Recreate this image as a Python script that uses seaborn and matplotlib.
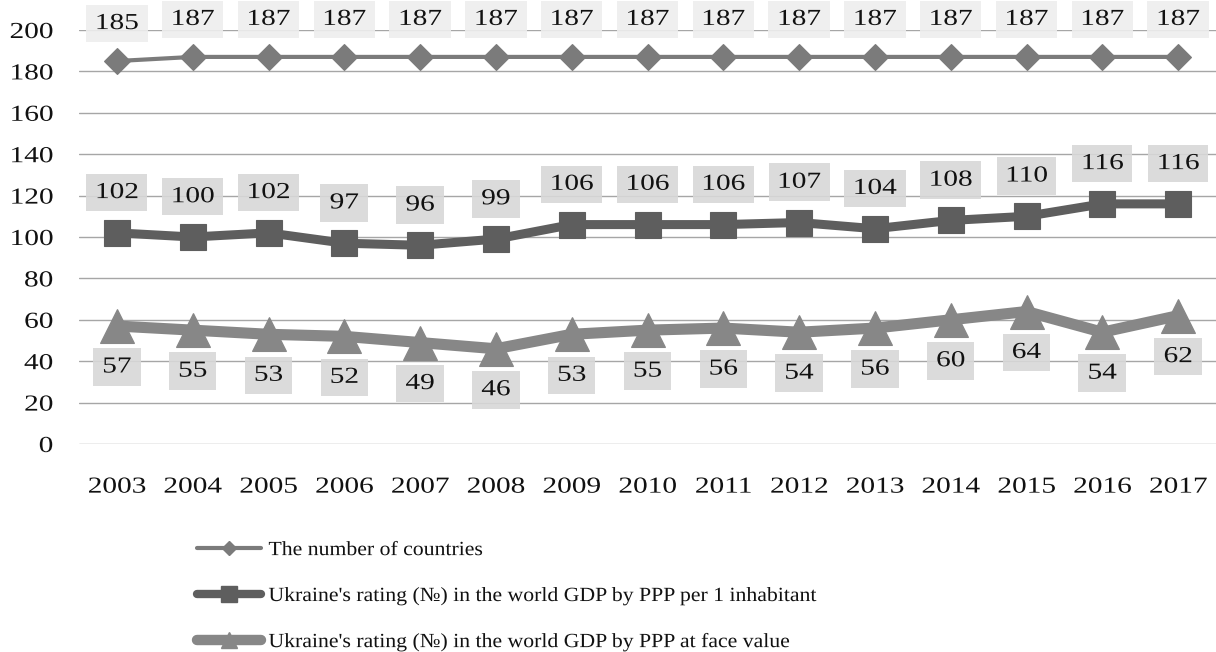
import matplotlib
matplotlib.use("Agg")
import matplotlib.pyplot as plt
from matplotlib.patheffects import AbstractPathEffect
from matplotlib.transforms import Affine2D
from matplotlib.lines import Line2D
import seaborn as sns
import pandas as pd

# ---- data ----
years = [2003, 2004, 2005, 2006, 2007, 2008, 2009, 2010, 2011, 2012, 2013, 2014, 2015, 2016, 2017]
countries = [185, 187, 187, 187, 187, 187, 187, 187, 187, 187, 187, 187, 187, 187, 187]
rating_per_capita = [102, 100, 102, 97, 96, 99, 106, 106, 106, 107, 104, 108, 110, 116, 116]
rating_face_value = [57, 55, 53, 52, 49, 46, 53, 55, 56, 54, 56, 60, 64, 54, 62]
series_names = [
    "The number of countries",
    "Ukraine's rating (№) in the world GDP by PPP per 1 inhabitant",
    "Ukraine's rating (№) in the world GDP by PPP at face value",
]
y_ticks = [0, 20, 40, 60, 80, 100, 120, 140, 160, 180, 200]


class Stretch(AbstractPathEffect):
    """Widen a drawn path horizontally about an anchor (left/center/right)."""

    def __init__(self, sx=1.25, anchor="center"):
        super().__init__()
        self.sx = sx
        self.anchor = anchor

    def draw_path(self, renderer, gc, tpath, affine, rgbFace=None):
        ext = tpath.get_extents(affine)
        if self.anchor == "left":
            cx = ext.x0
        elif self.anchor == "right":
            cx = ext.x1
        else:
            cx = 0.5 * (ext.x0 + ext.x1)
        extra = Affine2D().translate(-cx, 0).scale(self.sx, 1).translate(cx, 0)
        renderer.draw_path(gc, tpath, affine + extra, rgbFace)


sns.set_theme(style="white")
plt.rcParams["font.family"] = ["Liberation Serif", "DejaVu Serif"]

fig = plt.figure(figsize=(12.16, 6.52), dpi=100)
ax = fig.add_axes([79 / 1216, 1 - 444 / 652, 1 - 79 / 1216, 414 / 652])

styles = [
    dict(color="#7b7b7b", marker="D", lw=3.0, ms=13, label_above=True, off=27.0, box="#eeeeee"),
    dict(color="#5e5e5e", marker="s", lw=6.5, ms=19, label_above=True, off=29.0, box="#d8d8d8"),
    dict(color="#878787", marker="^", lw=8.0, ms=24, label_above=False, off=29.5, box="#d8d8d8"),
]
values = [countries, rating_per_capita, rating_face_value]

for name, vals, st in zip(series_names, values, styles):
    df = pd.DataFrame({"year": years, "value": vals})
    sns.lineplot(data=df, x="year", y="value", ax=ax, color=st["color"],
                 marker=st["marker"], markersize=st["ms"], linewidth=st["lw"],
                 markeredgecolor=st["color"], markeredgewidth=0.8,
                 solid_joinstyle="miter", zorder=3, legend=False)
    for x, v in zip(years, vals):
        dy = st["off"] if st["label_above"] else -st["off"]
        ax.annotate(str(v), xy=(x, v), xytext=(0, dy), textcoords="offset points",
                    ha="center", va="center", fontsize=16.5, color="#111111",
                    zorder=4,
                    path_effects=[Stretch(1.28)],
                    bbox=dict(boxstyle="square,pad=0.36", fc=st["box"], ec="none",
                              alpha=0.9, path_effects=[Stretch(1.21)]))

ax.set_xlim(2002.5, 2017.5)
ax.set_ylim(0, 200)
ax.set_xticks(years)
ax.set_xticklabels([str(y) for y in years])
ax.set_yticks(y_ticks)
ax.set_yticklabels([str(t) for t in y_ticks])
ax.set_xlabel("")
ax.set_ylabel("")
ax.grid(axis="y", color="#a6a6a6", lw=1.0)
ax.grid(axis="x", visible=False)
for s in ax.spines.values():
    s.set_visible(False)
ax.tick_params(axis="x", length=0, pad=23.5, labelsize=16.5, labelcolor="#111111")
ax.tick_params(axis="y", length=0, pad=18.7, labelsize=16.5, labelcolor="#111111")
for lbl in ax.get_xticklabels():
    lbl.set_path_effects([Stretch(1.28)])
for lbl in ax.get_yticklabels():
    lbl.set_path_effects([Stretch(1.28, anchor="right")])

# legend below the plot
handles = [
    Line2D([], [], color=styles[0]["color"], lw=3.0, marker="D", ms=7,
           solid_capstyle="round"),
    Line2D([], [], color=styles[1]["color"], lw=6.0, marker="s", ms=11,
           solid_capstyle="round"),
    Line2D([], [], color=styles[2]["color"], lw=7.5, marker="^", ms=12,
           solid_capstyle="round"),
]
leg = fig.legend(handles, series_names, loc="upper left",
                 bbox_to_anchor=(197 / 1216, 1 - 541 / 652),
                 frameon=False, fontsize=14.5, handlelength=3.2, handletextpad=0.35,
                 labelspacing=1.3, borderpad=0, borderaxespad=0)
for t in leg.get_texts():
    t.set_color("#111111")
    t.set_path_effects([Stretch(1.08, anchor="left")])

fig.savefig("out.png", dpi=100)
